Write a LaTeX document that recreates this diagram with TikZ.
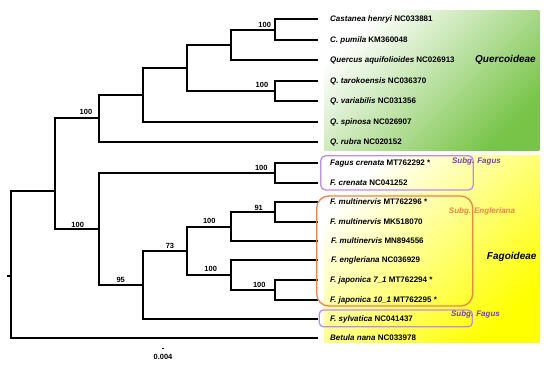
\documentclass[tikz,border=0pt]{standalone}
\usepackage{fontspec}
\setmainfont{Liberation Sans}
\definecolor{qgreen}{HTML}{78C448}
\definecolor{fyellow}{HTML}{FFFF00}
\definecolor{subgpurple}{HTML}{BE8CF0}
\definecolor{subgpurpletext}{HTML}{7A40B0}
\definecolor{subgorange}{HTML}{F08246}
\usetikzlibrary{positioning}

\begin{document}
\begin{tikzpicture}[
    x=1pt,y=-1pt,
    branch/.style={line width=2pt,black},
    tip/.style={anchor=west,inner sep=0pt,text height=5.8pt,text depth=0pt,
                font=\fontsize{8}{9}\selectfont\bfseries},
    support/.style={inner sep=0pt,font=\fontsize{7.5}{9}\selectfont\bfseries},
    clade/.style={inner sep=0pt,font=\fontsize{10}{12}\selectfont\bfseries\itshape},
    subg/.style={inner sep=0pt,font=\fontsize{8}{9.6}\selectfont\bfseries\itshape},
    subgbox/.style={line width=1.3pt,rounded corners=5pt}
  ]
    \useasboundingbox (0,0) rectangle (550,370);

    % subfamily backgrounds
    \shade[top color=white,bottom color=qgreen,shading angle=45]
      (324,10.7) rectangle (539.3,150);
    \shade[top color=white,bottom color=fyellow,shading angle=45]
      (324,155.7) rectangle (539.3,342.7);

    % inner nodes
    \coordinate (root)     at (11,276);
    \coordinate (rootstub) at (7,276);
    \coordinate (fagac)    at (55,191);
    \coordinate (querc)    at (99,118);
    \coordinate (qc3)      at (143,95);
    \coordinate (qc4)      at (187,68);
    \coordinate (qc5)      at (231,45);
    \coordinate (cast)     at (275,30);
    \coordinate (taro)     at (275,91);
    \coordinate (fagoid)   at (99,229);
    \coordinate (cren)     at (275,173);
    \coordinate (fg95)     at (143,285);
    \coordinate (fg73)     at (187,251);
    \coordinate (mult)     at (231,227);
    \coordinate (mult91)   at (275,212);
    \coordinate (japo)     at (231,275);
    \coordinate (japo2)    at (275,290);

    % tips
    \coordinate (t1)  at (318,19);
    \coordinate (t2)  at (318,40);
    \coordinate (t3)  at (318,60);
    \coordinate (t4)  at (318,81);
    \coordinate (t5)  at (318,101);
    \coordinate (t6)  at (318,122);
    \coordinate (t7)  at (318,142);
    \coordinate (t8)  at (318,163);
    \coordinate (t9)  at (318,183);
    \coordinate (t10) at (318,202);
    \coordinate (t11) at (318,222);
    \coordinate (t12) at (318,241);
    \coordinate (t13) at (318,260);
    \coordinate (t14) at (318,280);
    \coordinate (t15) at (318,300);
    \coordinate (t16) at (318,319);
    \coordinate (t17) at (318,338);

    \node[tip,right=12pt of t1]  (l1)  {\textit{Castanea henryi} NC033881};
    \node[tip,right=12pt of t2]  (l2)  {\textit{C. pumila} KM360048};
    \node[tip,right=12pt of t3]  (l3)  {\textit{Quercus aquifolioides} NC026913};
    \node[tip,right=12pt of t4]  (l4)  {\textit{Q. tarokoensis} NC036370};
    \node[tip,right=12pt of t5]  (l5)  {\textit{Q. variabilis} NC031356};
    \node[tip,right=12pt of t6]  (l6)  {\textit{Q. spinosa} NC026907};
    \node[tip,right=12pt of t7]  (l7)  {\textit{Q. rubra} NC020152};
    \node[tip,right=12pt of t8]  (l8)  {\textit{Fagus crenata} MT762292 *};
    \node[tip,right=12pt of t9]  (l9)  {\textit{F. crenata} NC041252};
    \node[tip,right=12pt of t10] (l10) {\textit{F. multinervis} MT762296 *};
    \node[tip,right=12pt of t11] (l11) {\textit{F. multinervis} MK518070};
    \node[tip,right=13pt of t12] (l12) {\textit{F. multinervis} MN894556};
    \node[tip,right=13pt of t13] (l13) {\textit{F. engleriana} NC036929};
    \node[tip,right=12pt of t14] (l14) {\textit{F. japonica 7\_1} MT762294 *};
    \node[tip,right=12pt of t15] (l15) {\textit{F. japonica 10\_1} MT762295 *};
    \node[tip,right=12pt of t16] (l16) {\textit{F. sylvatica} NC041437};
    \node[tip,right=12pt of t17] (l17) {\textit{Betula nana} NC033978};

    % branches
    \draw[branch] (root) -- (rootstub);
    \draw[branch] (root) |- (fagac);
    \draw[branch] (root) |- (t17);
    \draw[branch] (fagac) |- (querc);
    \draw[branch] (fagac) |- (fagoid);
    \draw[branch] (querc) |- (qc3);
    \draw[branch] (querc) |- (t7);
    \draw[branch] (qc3) |- (qc4);
    \draw[branch] (qc3) |- (t6);
    \draw[branch] (qc4) |- (qc5);
    \draw[branch] (qc4) |- (taro);
    \draw[branch] (qc5) |- (cast);
    \draw[branch] (qc5) |- (t3);
    \draw[branch] (cast) |- (t1);
    \draw[branch] (cast) |- (t2);
    \draw[branch] (taro) |- (t4);
    \draw[branch] (taro) |- (t5);
    \draw[branch] (fagoid) |- (cren);
    \draw[branch] (fagoid) |- (fg95);
    \draw[branch] (cren) |- (t8);
    \draw[branch] (cren) |- (t9);
    \draw[branch] (fg95) |- (fg73);
    \draw[branch] (fg95) |- (t16);
    \draw[branch] (fg73) |- (mult);
    \draw[branch] (fg73) |- (japo);
    \draw[branch] (mult) |- (mult91);
    \draw[branch] (mult) |- (t12);
    \draw[branch] (mult91) |- (t10);
    \draw[branch] (mult91) |- (t11);
    \draw[branch] (japo) |- (t13);
    \draw[branch] (japo) |- (japo2);
    \draw[branch] (japo2) |- (t14);
    \draw[branch] (japo2) |- (t15);

    % bootstrap values
    \node[support] (sCast)   at (264.7,25)    {100};
    \node[support] (sTaro)   at (262,85)      {100};
    \node[support] (sQuerc)  at (86,112)      {100};
    \node[support] (sCren)   at (261.3,168)   {100};
    \node[support] (sFagoid) at (77.7,225)    {100};
    \node[support] (s95)     at (120.7,280)   {95};
    \node[support] (s73)     at (170,246)     {73};
    \node[support] (sMult)   at (209.3,221)   {100};
    \node[support] (s91)     at (258.7,207.5) {91};
    \node[support] (sJapo)   at (210.7,269.3) {100};
    \node[support] (sJapo2)  at (259.3,285.3) {100};

    % subgenus boxes
    \draw[subgbox,subgpurple] (320.7,155.7) rectangle (473.3,190);
    \draw[subgbox,subgorange,rounded corners=12pt] (316.7,196) rectangle (472.7,306);
    \draw[subgbox,subgpurple,rounded corners=4pt] (319.3,310) rectangle (472.3,326.7);
    \node[subg,subgpurpletext] (subgF1) at (476.5,161) {Subg. Fagus};
    \node[subg,subgorange]     (subgE)  at (482,211)   {Subg. Engleriana};
    \node[subg,subgpurpletext] (subgF2) at (475.5,314) {Subg. Fagus};

    \node[clade] (quercoideae) at (505.5,60)  {Quercoideae};
    \node[clade] (fagoideae)   at (511.7,257.3) {Fagoideae};

    % scale bar
    \coordinate (sbl) at (162,348);
    \coordinate (sbr) at (164,348);
    \draw[line width=1pt] (sbl) -- (sbr);
    \node[support,below=6pt of sbl,xshift=1pt] (sblabel) {0.004};
  \end{tikzpicture}
\end{document}
